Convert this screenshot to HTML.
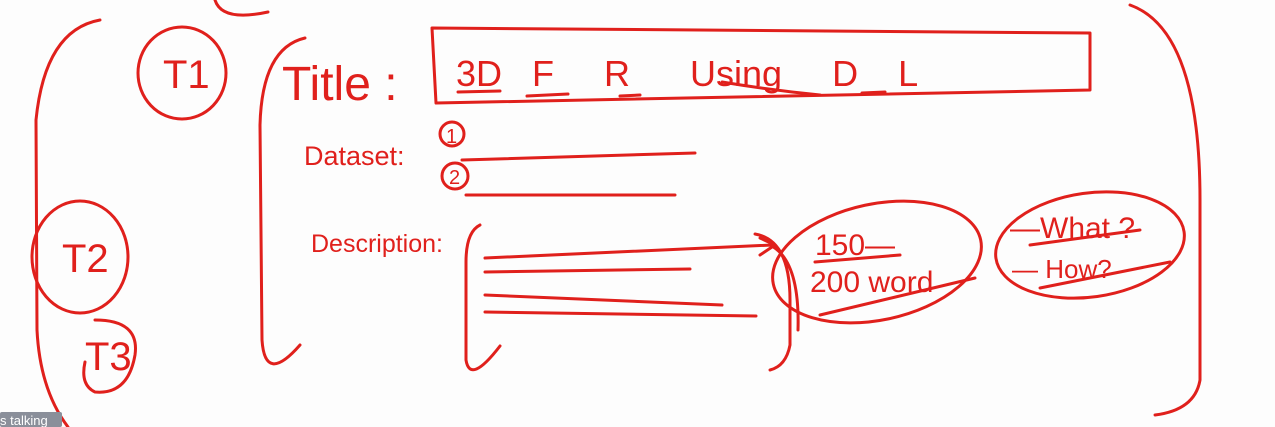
<!DOCTYPE html>
<html><head><meta charset="utf-8"><style>
html,body{margin:0;padding:0;background:#fdfdfd;width:1275px;height:427px;overflow:hidden}
svg{display:block}
text{font-family:"Liberation Sans",sans-serif;fill:#e0201c}
</style></head><body>
<svg width="1275" height="427" viewBox="0 0 1275 427">
<rect width="1275" height="427" fill="#fdfdfd"/>
<g fill="none" stroke="#e0201c" stroke-width="3" stroke-linecap="round" stroke-linejoin="round">
<path d="M100,20 Q45,30 36,120 L37,330 Q40,390 68,427"/>
<path d="M215,0 Q222,22 268,12"/>
<ellipse cx="182" cy="73" rx="44" ry="46"/>
<ellipse cx="80" cy="257" rx="48" ry="56"/>
<path d="M95,320 Q140,320 135,355 Q128,395 95,392 Q80,385 85,362"/>
<path d="M305,38 Q262,48 260,125 L262,340 Q265,385 300,345"/>
<path d="M432,28 L1090,33 L1090,90 L436,103 Z"/>
<path d="M458,92 L500,91 M527,96 L568,94 M620,96 L640,95 M722,82 Q770,90 820,95 M862,93 L885,92"/>
<circle cx="452" cy="134" r="12"/>
<circle cx="455" cy="176" r="13"/>
<path d="M462,160 L695,153 M466,195 L675,195"/>
<path d="M480,225 Q466,232 466,262 L466,360 Q470,385 500,346"/>
<path d="M485,258 L772,245 M760,238 L775,245 L760,255 M485,272 L690,269 M485,295 L722,305 M485,312 L756,316"/>
<path d="M755,234 Q790,240 790,300 L790,345 Q786,366 770,370 M770,245 Q800,260 798,330"/>
<ellipse cx="877" cy="262" rx="106" ry="58" transform="rotate(-12 877 262)"/>
<ellipse cx="1090" cy="245" rx="95" ry="52" transform="rotate(-8 1090 245)"/>
<path d="M820,315 L975,278 M815,262 L900,255"/>
<path d="M1040,288 L1170,262 M1030,245 L1140,230"/>
<path d="M1130,5 Q1200,30 1200,200 L1200,380 Q1195,410 1155,415"/>
</g>
<text x="163" y="88" font-size="40">T1</text>
<text x="62" y="272" font-size="40">T2</text>
<text x="85" y="370" font-size="40">T3</text>
<text x="282" y="100" font-size="48">Title :</text>
<text x="456" y="86" font-size="36" xml:space="preserve">3D   F     R      Using     D    L</text>
<text x="304" y="165" font-size="27">Dataset:</text>
<text x="446" y="143" font-size="20">1</text>
<text x="449" y="184" font-size="20">2</text>
<text x="311" y="252" font-size="25">Description:</text>
<text x="815" y="255" font-size="30">150—</text>
<text x="810" y="292" font-size="30">200 word</text>
<text x="1010" y="238" font-size="30">—What ?</text>
<text x="1012" y="278" font-size="26">— How?</text>
<rect x="0" y="412" width="62" height="15" rx="2" fill="#8a8f9a"/>
<text x="0" y="425" font-size="13" style="fill:#fff">s talking</text>
</svg>
</body></html>
